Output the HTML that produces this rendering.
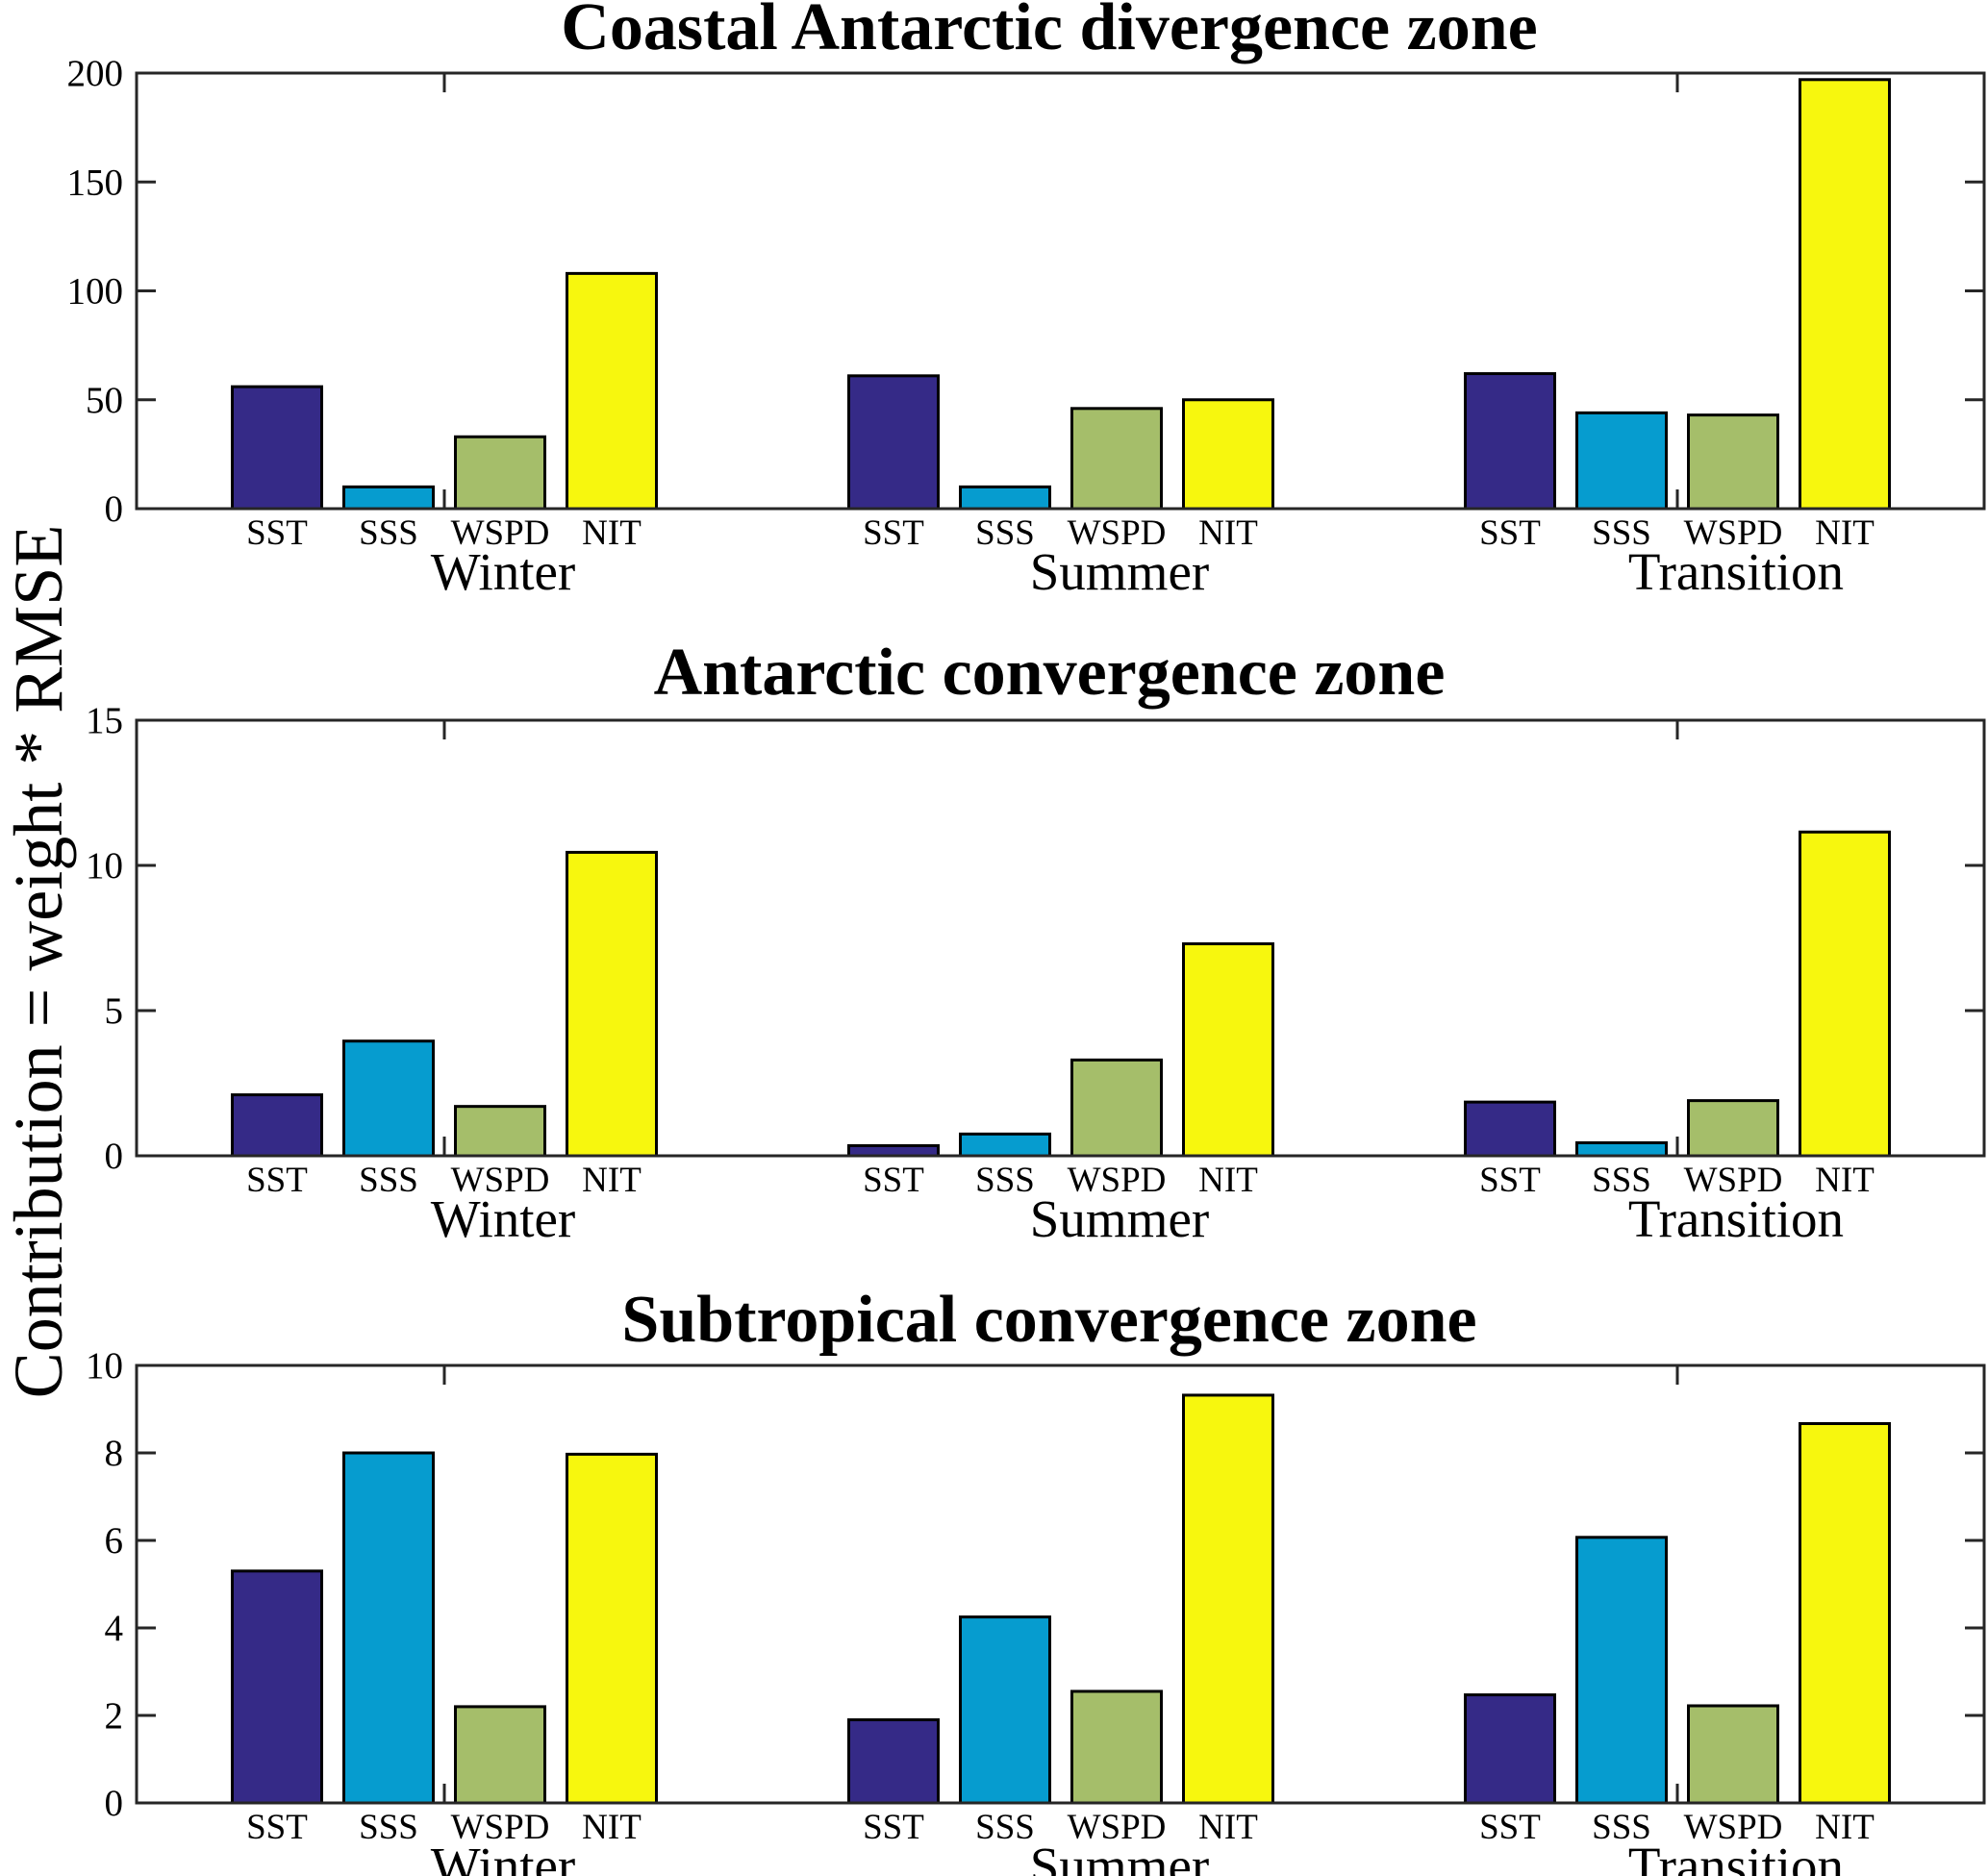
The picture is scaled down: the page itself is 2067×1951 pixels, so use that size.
<!DOCTYPE html>
<html><head><meta charset="utf-8"><style>
html,body{margin:0;padding:0;background:#fff;}
svg{display:block;font-family:"Liberation Serif",serif;}
</style></head><body>
<svg id="chart" width="2067" height="1951" viewBox="0 0 2067 1951" xmlns="http://www.w3.org/2000/svg">
<text x="0" y="0" transform="translate(64,1000) rotate(-90)" text-anchor="middle" font-size="72">Contribution = weight * RMSE</text>
</svg>
<script>
const variables = ["SST","SSS","WSPD","NIT"];
const seasons = ["Winter","Summer","Transition"];
const colors = ["#352a87","#069ccf","#a5be6a","#f7f70e"];
const titles = ["Coastal Antarctic divergence zone","Antarctic convergence zone","Subtropical convergence zone"];
const yMax = [200,15,10];
const yTicks1 = [0,50,100,150,200];
const yTicks2 = [0,5,10,15];
const yTicks3 = [0,2,4,6,8,10];
const p1Winter = [56,10,33,108];
const p1Summer = [61,10,46,50];
const p1Transition = [62,44,43,197];
const p2Winter = [2.1,3.95,1.7,10.45];
const p2Summer = [0.35,0.75,3.3,7.3];
const p2Transition = [1.85,0.45,1.9,11.15];
const p3Winter = [5.3,8.0,2.2,7.97];
const p3Summer = [1.9,4.25,2.55,9.32];
const p3Transition = [2.47,6.07,2.22,8.67];

const panels = [
  {vals:[p1Winter,p1Summer,p1Transition], ticks:yTicks1, top:76, bottom:529, title:titles[0], ty:27, max:yMax[0]},
  {vals:[p2Winter,p2Summer,p2Transition], ticks:yTicks2, top:749, bottom:1202, title:titles[1], ty:698, max:yMax[1]},
  {vals:[p3Winter,p3Summer,p3Transition], ticks:yTicks3, top:1420, bottom:1875, title:titles[2], ty:1371, max:yMax[2]},
];
const svg = document.getElementById('chart');
const NS = "http://www.w3.org/2000/svg";
const L = 142, R = 2063;
function xGroup(g){ return 462 + g*641; }
function xBar(g,v){ return xGroup(g) + (v-1.5)*116; }
function mk(tag, attrs){ const e=document.createElementNS(NS,tag); for(const k in attrs) e.setAttribute(k,attrs[k]); svg.appendChild(e); return e; }

panels.forEach((p,pi)=>{
  const y = val => p.bottom - (val/p.max)*(p.bottom-p.top);
  const t = mk('text',{x:1091, y:p.ty+24, 'text-anchor':'middle','font-size':70,'font-weight':'bold'});
  t.textContent = p.title;
  
  
  p.vals.forEach((arr,g)=>{
    arr.forEach((v,vi)=>{
      const cx = xBar(g,vi);
      const r = mk('rect',{x:cx-46.5, y:y(v), width:93, height:p.bottom-y(v), fill:colors[vi], stroke:'#000','stroke-width':3});
      
      
      const lt = mk('text',{x:cx, y:p.bottom+37, 'text-anchor':'middle','font-size':37});
      lt.textContent = variables[vi];
      
      
    });
    const gt = mk('text',{x:xGroup(g)+61, y:p.bottom+84, 'text-anchor':'middle','font-size':55});
    gt.textContent = seasons[g];
    
    
  });
  const box = mk('rect',{x:L, y:p.top, width:R-L, height:p.bottom-p.top, fill:'none', stroke:'#262626','stroke-width':3});
  
  
  p.ticks.forEach(tv=>{
    const yy = y(tv);
    mk('line',{x1:L,x2:L+20,y1:yy,y2:yy,stroke:'#262626','stroke-width':3});
    mk('line',{x1:R,x2:R-20,y1:yy,y2:yy,stroke:'#262626','stroke-width':3});
    const tl = mk('text',{x:L-14, y:yy+13, 'text-anchor':'end','font-size':39});
    tl.textContent = tv;
    
    
  });
  [0,2].forEach(g=>{
    const xx = xGroup(g);
    mk('line',{x1:xx,x2:xx,y1:p.top,y2:p.top+20,stroke:'#262626','stroke-width':3});
    mk('line',{x1:xx,x2:xx,y1:p.bottom,y2:p.bottom-20,stroke:'#262626','stroke-width':3});
  });
});
</script>
</body></html>
